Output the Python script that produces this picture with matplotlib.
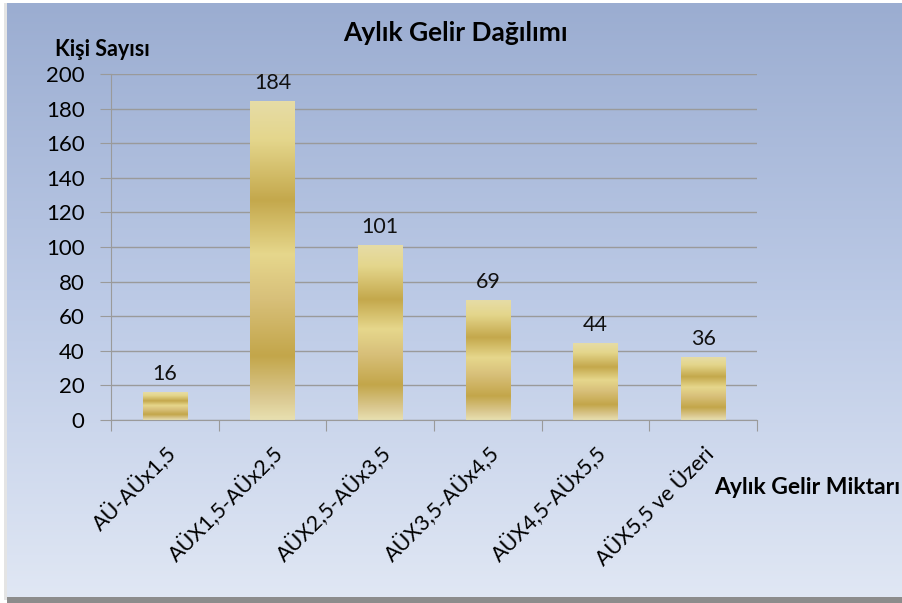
import numpy as np
import matplotlib
matplotlib.use("Agg")
import matplotlib.pyplot as plt
from matplotlib.colors import LinearSegmentedColormap

plt.rcParams["font.family"] = ["Lato", "DejaVu Sans"]

# data
categories = ["AÜ-AÜx1,5", "AÜX1,5-AÜx2,5", "AÜX2,5-AÜx3,5",
              "AÜX3,5-AÜx4,5", "AÜX4,5-AÜx5,5", "AÜX5,5 ve Üzeri"]
counts = [16, 184, 101, 69, 44, 36]
y_ticks = [0, 20, 40, 60, 80, 100, 120, 140, 160, 180, 200]

title = "Aylık Gelir Dağılımı"
y_title = "Kişi Sayısı"
x_title = "Aylık Gelir Miktarı"

W, H = 902, 603
fig = plt.figure(figsize=(W / 100, H / 100), dpi=100)
fig.patch.set_facecolor("white")

# background panel with blue gradient
bg = fig.add_axes([0, 0, 1, 1], zorder=-10)
bg.set_xlim(0, W)
bg.set_ylim(H, 0)
bg.axis("off")
bg_cmap = LinearSegmentedColormap.from_list(
    "bg", [(0.0, "#9badd1"), (0.5, "#bccae6"), (1.0, "#e0e7f4")])
grad = np.linspace(0, 1, 256).reshape(-1, 1)
bg.imshow(grad, cmap=bg_cmap, extent=(7, W, 597, 3), aspect="auto")
bg.add_patch(plt.Rectangle((7, 597), W, 6, color="#8c8c8c", lw=0))
bg.add_patch(plt.Rectangle((4, 3), 3, 597, color="#e4e4e4", lw=0))

# gold gradient for bars (top -> bottom)
gold = LinearSegmentedColormap.from_list("gold", [
    (0.00, "#e6dca6"), (0.12, "#e4d68c"), (0.31, "#c4a84c"),
    (0.48, "#e6d78c"), (0.62, "#d8c07a"), (0.80, "#c3a64a"),
    (0.93, "#dac890"), (1.00, "#e8e0b0")])

ax = fig.add_axes([111 / W, 1 - 420 / H, 646 / W, 346 / H])
ax.patch.set_alpha(0)
x = np.arange(len(categories))
bars = ax.bar(x, counts, width=0.41, color="none", lw=0, zorder=2)
for b, v in zip(bars, counts):
    ax.imshow(grad, cmap=gold, aspect="auto", zorder=2,
              extent=(b.get_x(), b.get_x() + b.get_width(), 0, b.get_height()))
    ax.text(b.get_x() + b.get_width() / 2, v + 5, str(v), ha="center",
            va="bottom", fontsize=15.5, color="#111111")

ax.set_xlim(-0.5, len(categories) - 0.5)
ax.set_ylim(0, 200)
ax.set_yticks(y_ticks)
# major ticks sit between categories, labels on minor ticks at centres
ax.set_xticks(np.arange(len(categories) + 1) - 0.5, minor=False)
ax.set_xticklabels([])
ax.set_xticks(x, minor=True)
ax.set_xticklabels(categories, minor=True, rotation=45, ha="right",
                   va="top", rotation_mode="anchor", fontsize=15.5)
ax.tick_params(axis="x", which="minor", length=0, pad=16)
ax.tick_params(axis="x", which="major", length=8, color="#9a9a9a")
ax.tick_params(axis="y", length=8, color="#9a9a9a", labelsize=16, pad=11)

ax.grid(axis="y", color="#9a9a9a", lw=1)
ax.set_axisbelow(True)
for s in ["top", "right"]:
    ax.spines[s].set_visible(False)
for s in ["left", "bottom"]:
    ax.spines[s].set_color("#9a9a9a")

fig.text(455 / W, 1 - 33 / H, title, ha="center", va="center",
         fontsize=19, fontweight="bold")
fig.text(55 / W, 1 - 50 / H, y_title, ha="left", va="center",
         fontsize=15.5, fontweight="bold")
fig.text(714 / W, 1 - 487 / H, x_title, ha="left", va="center",
         fontsize=16.5, fontweight="bold")

fig.savefig("out.png", dpi=100)
